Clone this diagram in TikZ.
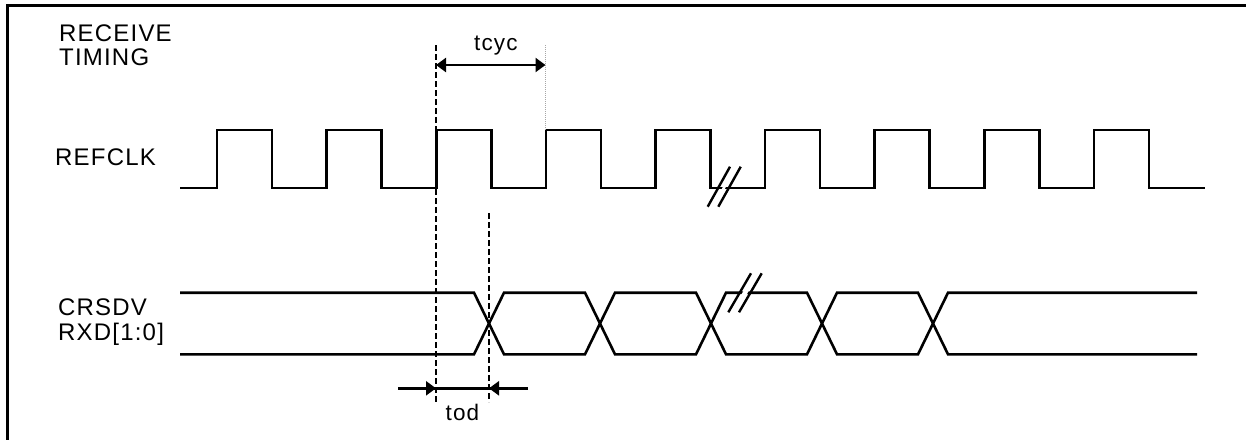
\documentclass[tikz,border=0pt]{standalone}
\usepackage{fontspec}
\setmainfont{Liberation Sans}[LetterSpace=5]
\usetikzlibrary{arrows.meta}
\begin{document}
\begin{tikzpicture}[x=1pt,y=-1pt,
  wave/.style={line width=2.6pt,line join=miter,line cap=butt},
  guide/.style={line width=1.6pt,dash pattern=on 6pt off 3pt},
  dimline/.style={line width=2.4pt,-{Triangle[length=10pt,width=14pt]}},
  dimboth/.style={line width=2.4pt,{Triangle[length=10pt,width=14pt]}-{Triangle[length=10pt,width=14pt]}},
  capt/.style={anchor=base west,inner sep=0pt,font=\fontsize{24}{28}\selectfont},
  small/.style={anchor=base west,inner sep=0pt,font=\fontsize{22.5}{26}\selectfont},
  brk/.style={line width=2.4pt}]
\useasboundingbox (0,0) rectangle (1246,440);
% frame (top and left only visible)
\draw[line width=3pt] (1246,5.5) -- (7,5.5) -- (7,440);
% labels
\node[capt] (t1) at (59,41.7) {RECEIVE};
\node[capt] (t2) at (59,65) {TIMING};
\node[capt] (lclk) at (55,165.7) {REFCLK};
\node[capt] (ld1) at (58,315) {CRSDV};
\node[capt] (ld2) at (58,340) {RXD[1:0]};
% clock
\def\lo{188}\def\hi{130}
\draw[wave] (180,\lo)
  \foreach \k in {0,...,8} {
    -- ({217+109.6*\k},\lo) -- ({217+109.6*\k},\hi) -- ({272+109.6*\k},\hi) -- ({272+109.6*\k},\lo)
  } -- (1205,\lo);
% clock break
\fill[white] (712,206.7) -- (734,166.7) -- (737,166.7) -- (715,206.7) -- cycle;
\draw[brk] (707.7,206.7) -- (730,166.7);
\draw[brk] (718.3,206.7) -- (740.7,166.7);
% data
\def\T{292.7}\def\B{354.3}
\draw[wave] (180,\T) -- (474,\T) -- (504,\B) -- (585,\B) -- (615,\T) -- (696,\T) -- (726,\B) -- (807,\B) -- (837,\T) -- (918,\T) -- (948,\B) -- (1197,\B);
\draw[wave] (180,\B) -- (474,\B) -- (504,\T) -- (585,\T) -- (615,\B) -- (696,\B) -- (726,\T) -- (807,\T) -- (837,\B) -- (918,\B) -- (948,\T) -- (1197,\T);
% data break
\fill[white] (731,312.3) -- (753.7,273.3) -- (759,273.3) -- (736.3,312.3) -- cycle;
\draw[brk] (728.3,312.3) -- (751,273.3);
\draw[brk] (739,312.3) -- (761.7,273.3);
% guides
\coordinate (g1t) at (436,45);
\coordinate (g1b) at (436,402);
\coordinate (g2t) at (489,213);
\coordinate (g2b) at (489,402);
\draw[guide] (g1t) -- (g1b);
\draw[guide] (g2t) -- (g2b);
\coordinate (g3t) at (545.5,45);
\coordinate (g3b) at (545.5,130);
\draw[gray!70,line width=0.8pt,dash pattern=on 1pt off 1pt] (g3t) -- (g3b);
% tcyc
\coordinate (c1) at (436,65);
\coordinate (c2) at (545.5,65);
\draw[dimboth] (c1) -- (c2);
\node[small] (tcyc) at (474,50) {tcyc};
% tod
\coordinate (d0) at (398,388.3);
\coordinate (d1) at (436,388.3);
\coordinate (d2) at (489,388.3);
\coordinate (d3) at (528,388.3);
\draw[line width=2.4pt] (d0) -- (d3);
\draw[dimline] (d0) -- (d1);
\draw[dimline] (d3) -- (d2);
\node[small] (tod) at (445.5,420) {tod};
\end{tikzpicture}
\end{document}
